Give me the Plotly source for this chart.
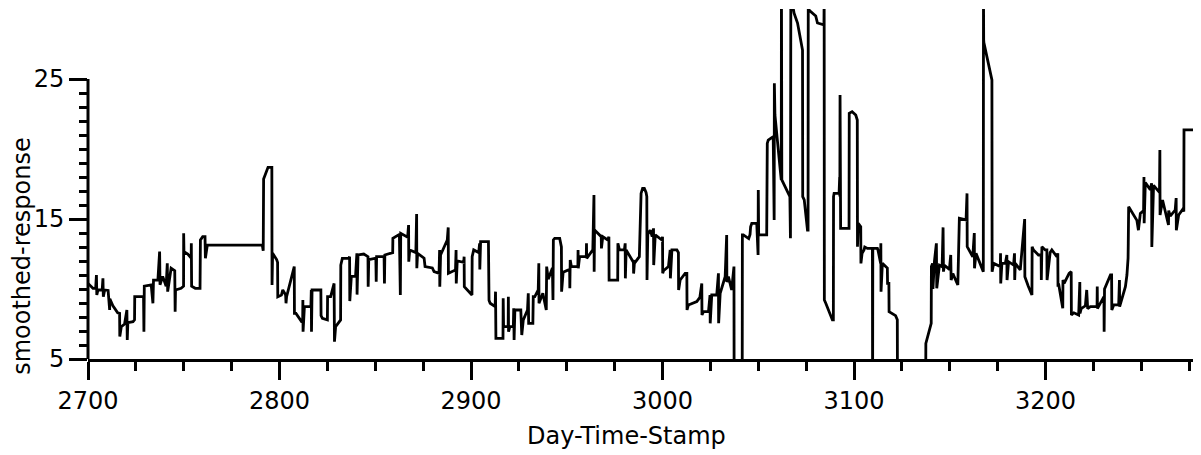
import plotly.graph_objects as go

# ---- data (x = Day-Time-Stamp, y = smoothed-response) ----
# values below 5 or above 30 lie outside the visible window and are clipped by the axes
day_time_stamp = [
    2700.0, 2702.6, 2704.0, 2704.4, 2704.6, 2705.2, 2707.4, 2707.8, 2708.0, 2708.7,
    2710.5, 2711.3, 2711.4, 2713.0, 2715.5, 2716.5, 2716.6, 2717.4, 2719.1, 2720.3,
    2720.5, 2720.8, 2723.5, 2724.3, 2724.4, 2729.0, 2729.2, 2729.4, 2733.0, 2733.9,
    2734.2, 2736.5, 2737.4, 2737.6, 2739.0, 2740.8, 2741.4, 2741.6, 2743.4, 2745.3,
    2745.5, 2745.7, 2748.6, 2749.9, 2749.95, 2750.1, 2752.1, 2753.9, 2753.95, 2754.1,
    2756.0, 2758.5, 2758.7, 2759.9, 2761.1, 2761.3, 2762.3, 2791.0,
    2791.5, 2791.7, 2794.0, 2796.0, 2796.1, 2796.4, 2798.5, 2799.0, 2799.1, 2801.0,
    2801.7, 2803.2, 2803.4, 2803.7, 2807.7, 2807.8, 2808.6, 2811.5, 2812.1, 2812.2,
    2812.3, 2813.0, 2816.4, 2816.6, 2816.7, 2817.0, 2821.6, 2821.7, 2822.4, 2825.0,
    2825.1, 2826.7, 2828.5, 2828.7, 2829.3, 2831.9, 2832.0, 2832.8, 2836.2, 2836.6,
    2836.7, 2837.5, 2839.7, 2840.4, 2840.5, 2841.0, 2844.0,
    2846.2, 2846.3, 2846.6, 2850.3, 2850.5, 2850.7, 2854.6, 2854.8, 2855.0, 2859.1,
    2859.2, 2862.6, 2863.1, 2863.3, 2866.9, 2867.4, 2867.5, 2868.0, 2871.2, 2871.6,
    2871.7, 2872.1, 2875.5, 2876.0, 2879.8, 2880.7, 2883.3, 2883.6, 2883.7, 2884.1,
    2887.6, 2888.1, 2888.2, 2891.9, 2892.2, 2892.3, 2892.8, 2896.2, 2896.4, 2896.5,
    2900.5, 2900.6, 2901.4, 2904.0, 2904.5, 2904.6, 2905.0, 2909.1, 2909.4, 2910.0,
    2912.6, 2912.8, 2913.0, 2916.7, 2916.8, 2917.0,
    2919.4, 2919.5, 2919.6, 2920.3, 2922.1, 2922.3, 2922.5, 2922.9, 2926.0, 2926.5,
    2927.3, 2929.5, 2929.9, 2930.1, 2932.3, 2932.5, 2933.3, 2935.1, 2935.4, 2935.5,
    2937.5, 2939.3, 2939.5, 2940.3, 2942.5, 2942.8, 2943.0, 2943.7, 2946.3, 2947.2,
    2947.3, 2948.1, 2951.5, 2951.6, 2951.8, 2952.4, 2955.8, 2955.9, 2956.0, 2956.7,
    2960.2, 2960.3, 2960.4, 2963.6, 2964.2, 2964.3, 2964.5, 2968.0, 2968.1, 2968.8,
    2971.4, 2972.0, 2972.1, 2976.6, 2976.7, 2977.5, 2980.1, 2980.5, 2980.6, 2981.0,
    2984.4, 2984.8, 2984.9, 2985.3, 2987.9, 2988.8, 2989.6, 2990.5, 2991.4,
    2991.8, 2991.9, 2992.3, 2993.6, 2994.6, 2995.3, 2995.4, 2996.2, 2999.7, 3000.0,
    3000.1, 3000.5, 3003.1, 3004.0, 3004.1, 3004.9, 3007.5, 3008.3, 3008.4, 3009.2,
    3011.8, 3012.7, 3012.8, 3013.5, 3017.9, 3019.5, 3020.5, 3020.6, 3021.4, 3024.0,
    3024.8, 3024.9, 3025.7, 3028.3, 3029.2, 3029.3, 3030.1, 3032.7, 3033.5, 3033.6,
    3034.4, 3036.1, 3037.3, 3037.4, 3041.6, 3041.7, 3042.2, 3045.0, 3045.7, 3046.0,
    3046.6, 3049.2, 3049.9, 3050.0, 3050.2, 3054.4, 3054.7, 3055.2, 3057.8, 3058.3,
    3058.4, 3058.7, 3061.3, 3062.0, 3062.1, 3062.3, 3066.5, 3066.8, 3067.0, 3068.7,
    3070.5, 3073.1, 3073.2, 3074.0, 3075.7, 3076.0, 3076.1, 3076.6, 3080.0, 3080.9,
    3084.3, 3084.4, 3084.5, 3085.2, 3088.7, 3089.2, 3089.3, 3089.6, 3092.2, 3092.5,
    3092.6, 3092.7, 3093.0, 3097.4, 3097.5, 3099.0, 3100.9, 3101.7, 3101.8, 3102.2,
    3103.5, 3103.6, 3104.2, 3105.2, 3105.6, 3107.0, 3109.6, 3109.7, 3109.8, 3112.2,
    3112.5, 3113.9, 3114.0, 3114.1, 3114.8, 3117.4, 3117.5, 3118.2, 3118.3, 3121.7,
    3122.6, 3122.7, 3137.4, 3137.5, 3140.3, 3140.4, 3141.0, 3141.2, 3142.0, 3143.0,
    3143.2, 3144.6, 3146.0, 3146.5, 3146.7, 3147.2, 3149.8, 3150.5, 3150.7, 3151.6,
    3154.2, 3155.0, 3158.5, 3159.0, 3159.1, 3162.0, 3162.8, 3162.9, 3163.7, 3167.5,
    3167.6, 3167.7, 3167.8, 3172.0, 3172.1, 3172.9, 3176.4, 3176.5, 3176.6, 3177.2,
    3179.0, 3179.8, 3179.9, 3180.7, 3183.3, 3183.8, 3183.9, 3184.2, 3186.8, 3189.1,
    3189.2, 3191.0, 3192.9, 3193.0, 3193.7, 3196.3, 3197.7, 3197.8, 3198.1, 3199.8,
    3200.7, 3200.8, 3202.4, 3203.3, 3205.9, 3206.4, 3206.5, 3206.8, 3209.0, 3209.1,
    3209.7, 3212.3, 3213.4, 3213.5,
    3214.8, 3217.3, 3217.9, 3218.0, 3218.6, 3220.8, 3221.5, 3222.0, 3223.4, 3226.9,
    3227.0, 3227.1, 3229.5, 3230.5, 3230.6, 3230.8, 3233.9, 3234.5, 3234.6, 3235.6,
    3238.2, 3238.6, 3238.7, 3241.7, 3242.5, 3243.1, 3243.2, 3243.4, 3247.7, 3248.5,
    3249.5, 3251.2, 3251.4, 3251.5, 3252.1, 3254.7, 3255.4, 3255.5, 3256.4, 3259.5,
    3259.7, 3259.8, 3261.1, 3264.2, 3264.3, 3265.1, 3267.7, 3268.2, 3268.3, 3269.5,
    3272.0, 3272.2, 3272.3, 3277.0,
]

smoothed_response = [
    10.40, 10.05, 10.05, 11.00, 9.57, 9.93, 9.93, 10.76, 9.45, 9.93,
    9.90, 8.50, 9.30, 8.80, 8.30, 8.26, 6.60, 7.31, 7.50, 8.50,
    6.36, 7.60, 7.67, 7.80, 9.45, 9.45, 6.95, 10.20, 10.29, 8.98,
    10.64, 10.64, 12.67, 10.30, 10.90, 10.20, 11.83, 9.81, 11.48, 11.30,
    8.38, 9.93, 10.05, 10.20, 13.98, 12.67, 12.50, 12.20, 13.26, 10.20,
    10.05, 10.05, 13.50, 13.74, 13.74, 12.19, 13.14, 13.14,
    12.73, 17.86, 18.69, 18.69, 10.29, 12.55, 12.10, 11.90, 9.45, 9.57,
    9.93, 9.57, 8.98, 9.45, 11.60, 8.26, 8.26, 7.67, 7.67, 9.21,
    6.95, 8.74, 8.74, 9.93, 6.95, 9.93, 9.93, 8.10, 7.90, 7.79,
    9.45, 9.45, 10.40, 6.24, 7.31, 7.79, 11.71, 12.19, 12.19, 12.31,
    9.14, 10.90, 10.90, 12.55, 9.60, 12.43, 12.50,
    12.31, 10.17, 12.10, 12.20, 10.52, 12.31, 12.31, 10.40, 12.43, 12.60,
    13.62, 13.90, 9.57, 13.98, 13.70, 14.57, 11.95, 12.79, 12.60, 15.36,
    11.48, 12.55, 12.20, 11.60, 11.50, 11.24, 11.12, 12.79, 10.17, 12.43,
    13.50, 14.40, 11.12, 11.36, 12.79, 10.40, 12.00, 11.90, 12.31, 10.17,
    9.57, 12.31, 12.79, 12.60, 13.26, 11.40, 13.38, 13.38, 9.20, 8.98,
    8.74, 9.81, 6.48, 6.48, 9.33, 7.31,
    7.31, 9.45, 6.95, 7.31, 7.31, 8.62, 6.36, 8.50, 8.50, 6.71,
    7.79, 8.50, 9.69, 7.55, 7.55, 9.45, 9.45, 9.93, 11.83, 8.98,
    9.70, 8.50, 11.60, 10.70, 11.50, 9.21, 13.50, 13.62, 13.62, 13.00,
    9.81, 11.20, 11.40, 10.05, 12.07, 11.60, 11.60, 12.79, 11.48, 12.31,
    12.31, 13.26, 12.19, 12.79, 16.71, 11.24, 14.21, 13.74, 12.90, 13.74,
    13.50, 13.74, 10.64, 10.64, 13.26, 12.79, 12.79, 13.26, 10.76, 12.79,
    12.00, 12.07, 11.10, 11.83, 12.31, 16.83, 17.19, 17.19, 16.90,
    16.60, 10.64, 13.90, 14.20, 13.74, 14.33, 11.71, 13.86, 13.50, 13.74,
    11.12, 11.30, 11.60, 12.79, 10.76, 12.79, 12.79, 12.60, 9.93, 10.64,
    11.12, 11.12, 8.50, 8.86, 9.10, 9.40, 10.40, 8.14, 8.38, 8.38,
    9.57, 7.55, 9.57, 9.57, 11.12, 7.55, 9.69, 10.88, 13.86, 10.50,
    10.88, 9.93, 11.60, 2.00, 2.00, 13.86, 13.86, 13.60, 13.90, 14.45,
    14.69, 14.69, 12.43, 17.07, 13.86, 13.86, 20.40, 20.64, 20.88, 14.93,
    24.69, 22.43, 18.74, 17.79, 32.00, 17.79, 16.60, 13.62, 31.00, 29.70,
    29.00, 27.07, 16.60, 16.36, 14.21, 14.21, 31.00, 29.90, 29.50, 29.00,
    28.86, 31.00, 9.21, 9.00, 7.79, 7.79, 16.60, 16.83, 16.83, 18.00,
    16.60, 23.86, 14.33, 14.33, 22.55, 22.67, 22.43, 22.07, 13.02, 14.69,
    14.45, 11.83, 12.55, 12.79, 13.00, 12.90, 12.90, 2.00, 12.90, 12.90,
    12.79, 11.83, 13.26, 9.81, 11.83, 11.50, 10.40, 10.40, 8.38, 8.10,
    7.80, 2.00, 2.00, 6.12, 7.55, 11.60, 11.83, 10.00, 12.00, 13.26,
    10.05, 11.70, 11.60, 14.40, 11.24, 11.70, 11.40, 12.43, 10.64, 11.10,
    10.29, 15.05, 14.93, 16.83, 13.02, 12.30, 14.00, 11.48, 12.55, 11.24,
    31.00, 27.80, 27.60, 24.93, 11.24, 11.83, 11.60, 12.55, 10.40, 11.83,
    11.83, 12.43, 10.64, 11.95, 11.71, 12.55, 10.64, 11.83, 11.36, 15.00,
    10.88, 10.20, 9.57, 13.02, 12.79, 12.43, 12.43, 10.64, 13.02, 12.79,
    12.79, 10.64, 12.60, 12.79, 12.31, 12.55, 10.17, 10.40, 8.62, 10.64,
    10.40, 11.12, 11.24, 8.14,
    8.30, 8.14, 10.50, 8.26, 8.60, 8.80, 9.93, 8.60, 8.74, 8.74,
    10.17, 8.60, 9.20, 9.45, 6.95, 10.00, 11.00, 11.00, 8.50, 8.86,
    8.86, 10.64, 8.74, 10.17, 11.00, 12.20, 13.26, 15.88, 14.90, 14.20,
    15.40, 15.60, 18.00, 14.70, 17.60, 17.10, 17.55, 13.00, 17.40, 16.90,
    19.93, 15.29, 16.36, 14.57, 15.60, 15.20, 15.64, 16.50, 14.20, 15.29,
    15.76, 15.52, 21.36, 21.36,
]

x_major_ticks = [2700, 2800, 2900, 3000, 3100, 3200]
x_minor_ticks = [2725, 2750, 2775, 2825, 2850, 2875, 2925, 2950, 2975, 3025, 3050,
                 3075, 3125, 3150, 3175, 3225, 3250, 3275]
y_major_ticks = [5, 15, 25]
y_minor_ticks = [6, 7, 8, 9, 10, 11, 12, 13, 14, 16, 17, 18, 19, 20, 21, 22, 23, 24]

FONT = "DejaVu Sans, Verdana, sans-serif"

fig = go.Figure(
    go.Scatter(
        x=day_time_stamp,
        y=smoothed_response,
        mode="lines",
        line=dict(color="black", width=2.8, simplify=False),
        hoverinfo="skip",
    )
)

fig.update_layout(
    width=1201,
    height=455,
    margin=dict(l=88, r=8, t=9, b=96),
    plot_bgcolor="white",
    paper_bgcolor="white",
    showlegend=False,
    font=dict(family=FONT, size=24, color="black"),
    shapes=[
        dict(type="line", xref="paper", x0=0, x1=0, yref="y", y0=5, y1=25,
             line=dict(color="black", width=3), layer="above"),
    ],
    annotations=[
        dict(text="Day-Time-Stamp", xref="paper", yref="paper", x=0.487, y=-0.22,
             xanchor="center", yanchor="middle", showarrow=False,
             font=dict(family=FONT, size=24, color="black")),
        dict(text="smoothed-response", xref="paper", yref="paper", x=-0.06, y=0.294,
             xanchor="center", yanchor="middle", showarrow=False, textangle=-90,
             font=dict(family=FONT, size=24, color="black")),
    ],
)

fig.update_xaxes(
    range=[2700, 3277],
    showgrid=False, zeroline=False,
    showline=True, linecolor="black", linewidth=3,
    ticks="outside", tickmode="array", tickvals=x_major_ticks,
    ticklen=18, tickwidth=3, tickcolor="black",
    minor=dict(tickmode="array", tickvals=x_minor_ticks, ticks="outside",
               ticklen=9, tickwidth=3, tickcolor="black", showgrid=False),
)
fig.update_yaxes(
    range=[5, 30],
    showgrid=False, zeroline=False, showline=False,
    ticks="outside", tickmode="array", tickvals=y_major_ticks,
    ticklen=18, tickwidth=3, tickcolor="black",
    minor=dict(tickmode="array", tickvals=y_minor_ticks, ticks="outside",
               ticklen=8, tickwidth=3, tickcolor="black", showgrid=False),
)

fig.write_html("out.html")
